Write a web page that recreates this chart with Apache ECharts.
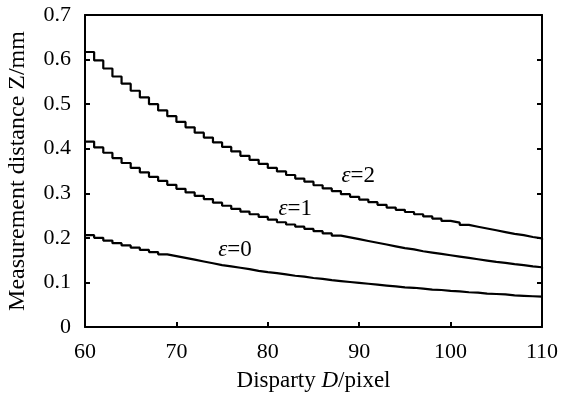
<!DOCTYPE html>
<html>
<head>
<meta charset="utf-8">
<script src="https://cdn.jsdelivr.net/npm/echarts@6/dist/echarts.min.js"></script>
<style>
  html, body { margin: 0; padding: 0; background: #fff; }
  #chart { width: 572px; height: 393px; }
</style>
</head>
<body>
<div id="chart"></div>
<script>
// disparity D (pixel), one step per pixel
const disparity = [60, 61, 62, 63, 64, 65, 66, 67, 68, 69, 70, 71, 72, 73, 74, 75, 76, 77, 78, 79,
  80, 81, 82, 83, 84, 85, 86, 87, 88, 89, 90, 91, 92, 93, 94, 95, 96, 97, 98, 99,
  100, 101, 102, 103, 104, 105, 106, 107, 108, 109, 110];

const zEps0 = [0.206, 0.200, 0.194, 0.188, 0.183, 0.178, 0.173, 0.168, 0.163, 0.159, 0.155, 0.151,
  0.147, 0.143, 0.139, 0.136, 0.133, 0.130, 0.126, 0.123, 0.121, 0.118, 0.115, 0.113, 0.110, 0.108,
  0.105, 0.103, 0.101, 0.099, 0.097, 0.095, 0.093, 0.091, 0.089, 0.088, 0.086, 0.084, 0.083, 0.081,
  0.080, 0.078, 0.077, 0.075, 0.074, 0.073, 0.071, 0.070, 0.069, 0.068, 0.067];
const zEps1 = [0.416, 0.403, 0.391, 0.379, 0.368, 0.357, 0.347, 0.337, 0.328, 0.319, 0.310, 0.302,
  0.294, 0.287, 0.279, 0.272, 0.265, 0.259, 0.253, 0.247, 0.241, 0.235, 0.230, 0.225, 0.220, 0.215,
  0.210, 0.205, 0.201, 0.197, 0.193, 0.189, 0.185, 0.181, 0.177, 0.174, 0.170, 0.167, 0.164, 0.161,
  0.158, 0.155, 0.152, 0.149, 0.146, 0.144, 0.141, 0.139, 0.136, 0.134, 0.131];
const zEps2 = [0.617, 0.598, 0.580, 0.562, 0.546, 0.530, 0.515, 0.500, 0.486, 0.473, 0.460, 0.448,
  0.436, 0.425, 0.414, 0.404, 0.394, 0.384, 0.375, 0.366, 0.357, 0.349, 0.341, 0.333, 0.326, 0.318,
  0.311, 0.305, 0.298, 0.292, 0.286, 0.280, 0.274, 0.268, 0.263, 0.258, 0.253, 0.248, 0.243, 0.238,
  0.234, 0.229, 0.225, 0.221, 0.217, 0.213, 0.209, 0.206, 0.202, 0.199, 0.195];

// curve labels, placed in data space
const labelEps = ['0', '1', '2'];
const labelD = [76.4, 83.0, 89.9];
const labelZ = [0.172, 0.265, 0.338];

const xTicks = [60, 70, 80, 90, 100, 110];
const yTicks = [0, 0.1, 0.2, 0.3, 0.4, 0.5, 0.6, 0.7];

const font = 'Liberation Serif, Times New Roman, serif';
const chart = echarts.init(document.getElementById('chart'), null, { renderer: 'canvas' });

const stepSeries = (z) => ({
  type: 'line',
  step: 'end',
  symbol: 'none',
  data: disparity.map((d, i) => [d, z[i]]),
  lineStyle: { color: '#000', width: 2.2 },
  silent: true,
});

chart.setOption({
  animation: false,
  backgroundColor: '#fff',
  grid: { left: 85, right: 30, top: 15, bottom: 66, outerBoundsMode: 'none', containLabel: false },
  xAxis: [
    {
      type: 'value',
      min: xTicks[0],
      max: xTicks[xTicks.length - 1],
      interval: 10,
      name: '{n|Disparty }{i|D}{n|/pixel}',
      nameLocation: 'middle',
      nameGap: 42,
      nameTextStyle: {
        rich: {
          n: { fontFamily: font, fontSize: 23, color: '#000' },
          i: { fontFamily: font, fontSize: 23, color: '#000', fontStyle: 'italic' },
        },
      },
      axisLine: { show: true, lineStyle: { color: '#000', width: 2 } },
      axisTick: { show: true, inside: true, length: 5, lineStyle: { color: '#000', width: 2 } },
      axisLabel: { fontFamily: font, fontSize: 22, color: '#000', margin: 14 },
      splitLine: { show: false },
    },
    {
      type: 'value',
      position: 'top',
      min: xTicks[0],
      max: xTicks[xTicks.length - 1],
      interval: 10,
      axisLine: { show: true, onZero: false, lineStyle: { color: '#000', width: 2 } },
      axisTick: { show: false },
      axisLabel: { show: false },
      splitLine: { show: false },
    },
  ],
  yAxis: [
    {
      type: 'value',
      min: yTicks[0],
      max: yTicks[yTicks.length - 1],
      interval: 0.1,
      name: 'Measurement distance Z/mm',
      nameLocation: 'middle',
      nameGap: 55,
      nameTextStyle: { fontFamily: font, fontSize: 24, color: '#000' },
      axisLine: { show: true, lineStyle: { color: '#000', width: 2 } },
      axisTick: { show: true, inside: true, length: 5, lineStyle: { color: '#000', width: 2 } },
      axisLabel: {
        fontFamily: font, fontSize: 22, color: '#000', margin: 14,
        formatter: (v) => (v === 0 ? '0' : v.toFixed(1)),
      },
      splitLine: { show: false },
    },
    {
      type: 'value',
      position: 'right',
      min: yTicks[0],
      max: yTicks[yTicks.length - 1],
      interval: 0.1,
      axisLine: { show: true, onZero: false, lineStyle: { color: '#000', width: 2 } },
      axisTick: { show: true, inside: true, length: 5, lineStyle: { color: '#000', width: 2 } },
      axisLabel: { show: false },
      splitLine: { show: false },
    },
  ],
  series: [
    stepSeries(zEps0),
    stepSeries(zEps1),
    stepSeries(zEps2),
    {
      type: 'scatter',
      symbolSize: 0,
      silent: true,
      itemStyle: { color: '#000', opacity: 1 },
      data: labelEps.map((e, i) => ({ value: [labelD[i], labelZ[i]], name: e })),
      label: {
        show: true,
        position: [0, 0],
        align: 'center',
        verticalAlign: 'middle',
        color: '#000',
        opacity: 1,
        textBorderWidth: 0,
        formatter: (p) => '{i|ε}{n|=' + p.name + '}',
        rich: {
          n: { fontFamily: font, fontSize: 23, color: '#000' },
          i: { fontFamily: font, fontSize: 23, color: '#000', fontStyle: 'italic' },
        },
      },
    },
  ],
});
</script>
</body>
</html>
